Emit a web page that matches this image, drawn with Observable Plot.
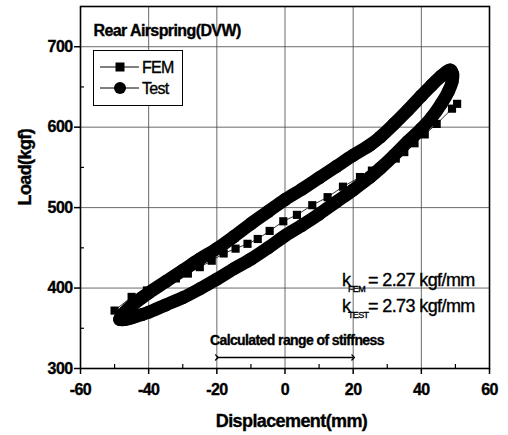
<!DOCTYPE html>
<html><head><meta charset="utf-8">
<script src="https://cdn.jsdelivr.net/npm/d3@7"></script>
<script src="https://cdn.jsdelivr.net/npm/@observablehq/plot@0.6"></script>
<style>
body{margin:0;background:#fff;}
#wrap{position:relative;width:508px;height:435px;font-family:"Liberation Sans",Arial,sans-serif;}
#wrap svg text{letter-spacing:-0.6px;stroke:#000;stroke-width:0.35px;}
#legend{position:absolute;left:93px;top:50px;width:88px;height:54px;border:1.5px solid #000;background:#fff;}
#legend svg text{font-family:"Liberation Sans",Arial,sans-serif;font-size:16px;letter-spacing:-0.7px;}
</style></head><body><div id="wrap"></div>
<script>
// ---- data ----
const femX = [-50,-45,-40.5,-36,-32,-28.5,-25,-21.5,-18,-14.5,-11,-8,-4.5,-0.5,3.5,8,12.5,17,22,25.5,29,32.5,35,38,41,44.5,49,50.5];
const femY = [372,389,397,405,412,418,426,434,443,449,455,461,471,483,491,503,513,526,538,546,553,561,569,580,591,604,623,629];

// Test hysteresis loop: lower branch (increasing displacement) then upper branch (decreasing)
const testX = [-48.5,-47,-45,-42,-40,-35,-30,-25,-20,-15,-10,-5,0,5,10,15,20,25,28,32,36,40,43,46,48,49,49.2,
               48.5,46,43,40,36,32,28,25,20,15,10,5,0,-5,-10,-15,-20,-25,-30,-35,-40,-42,-45,-47];
const testY = [361,361,363,367,370,379,388,399,411,424,436,450,465,478,492,507,522,538,549,565,582,598,612,630,645,656,666,
               671,664,652,639,621,604,588,578,565,551,537,523,510,495,480,464,449,436,422,408,394,388,378,370];

const xTicks = [-60,-40,-20,0,20,40,60];
const xMinor = [-50,-30,-10,10,30,50];
const yTicks = [300,400,500,600,700];
const yMinor = [350,450,550,650];
const xGrid = [-40,-20,0,20,40];
const yGrid = [400,500,600,700];

const seriesNames = ["FEM","Test"];
const kSubs = ["FEM","TEST"];
const kVals = ["= 2.27 kgf/mm","= 2.73 kgf/mm"];
const titleText = "Rear Airspring(DVW)";
const xLabel = "Displacement(mm)";
const yLabel = "Load(kgf)";
const rangeText = "Calculated range of stiffness";
const rangeBounds = [-20, 20];

// ---- tables ----
const fem = femX.map((x,i)=>({x, y: femY[i]}));
const test = testX.map((x,i)=>({x, y: testY[i]}));
const kAnchorX = 16.7;
const kAnchorY = [402, 370];
const kRows = kSubs.map((s,i)=>({x:kAnchorX, y:kAnchorY[i], sub:s, val:kVals[i]}));

const font = "Liberation Sans, Arial, sans-serif";
const plot = Plot.plot({
  width:508, height:435,
  marginLeft:80, marginRight:19, marginTop:6, marginBottom:67,
  x:{domain:[-60,60]},
  y:{domain:[300,750]},
  style:{fontFamily:font, background:"#fff", color:"#000", overflow:"visible"},
  marks:[
    Plot.gridX(xGrid,{stroke:"#444", strokeOpacity:1, strokeWidth:0.8}),
    Plot.gridY(yGrid,{stroke:"#444", strokeOpacity:1, strokeWidth:0.8}),
    Plot.axisX(xTicks,{anchor:"bottom", tickSize:6, tickPadding:9, fontSize:16, fontWeight:"bold", label:null, tickFormat:d=>`${d}`, strokeWidth:1.5}),
    Plot.axisX(xMinor,{anchor:"bottom", tickSize:4, dy:-4, tickFormat:()=>"", label:null, strokeWidth:1.2}),
    Plot.axisY(yTicks,{anchor:"left", tickSize:6, tickPadding:2, fontSize:16, fontWeight:"bold", label:null, tickFormat:d=>`${d}`, strokeWidth:1.5}),
    Plot.axisY(yMinor,{anchor:"left", tickSize:4, dx:4, tickFormat:()=>"", label:null, strokeWidth:1.2}),
    Plot.frame({stroke:"#000", strokeWidth:1.6}),
    // Test loop
    Plot.line(test,{x:"x", y:"y", curve:"catmull-rom-closed", stroke:"#000", strokeWidth:13, strokeLinejoin:"round"}),
    Plot.dot(test,{x:"x", y:"y", r:6.5, fill:"#000"}),
    // FEM
    Plot.line(fem,{x:"x", y:"y", stroke:"#000", strokeWidth:0.8}),
    Plot.dot(fem,{x:"x", y:"y", symbol:"square", r:4.6, fill:"#000"}),
    // texts
    Plot.text([titleText],{text:d=>d, frameAnchor:"top-left", dx:13, dy:29, lineAnchor:"bottom", textAnchor:"start", fontSize:16, fontWeight:"bold"}),
    Plot.text([xLabel],{text:d=>d, frameAnchor:"bottom", dx:6.5, dy:58, lineAnchor:"bottom", fontSize:18, fontWeight:"bold"}),
    Plot.text([yLabel],{text:d=>d, frameAnchor:"left", dx:-55, dy:18, rotate:-90, lineAnchor:"middle", fontSize:18, fontWeight:"bold"}),
    Plot.text(kRows,{x:"x", y:"y", text:()=>"k", textAnchor:"start", lineAnchor:"bottom", fontSize:18}),
    Plot.text(kRows,{x:"x", y:"y", text:"sub", textAnchor:"start", lineAnchor:"bottom", dx:6, dy:6, fontSize:9}),
    Plot.text(kRows,{x:"x", y:"y", text:"val", textAnchor:"start", lineAnchor:"bottom", dx:(26), fontSize:18}),
    Plot.text([rangeText],{text:d=>d, x:()=>3.5, y:()=>328.6, lineAnchor:"bottom", fontSize:14, fontWeight:"bold"}),
    Plot.link([rangeBounds],{x1:d=>d[0], x2:d=>d[1], y1:()=>313.7, y2:()=>313.7, stroke:"#000", strokeWidth:1.3, markerStart:"arrow", markerEnd:"arrow"})
  ]
});
const wrap = document.getElementById("wrap");
wrap.appendChild(plot);

// legend (inside the plot frame, top-left)
const leg = document.createElement("div");
leg.id = "legend";
leg.innerHTML = `<svg width="88" height="54">
  <line x1="6" x2="45" y1="16" y2="16" stroke="#000" stroke-width="1"/>
  <rect x="21.5" y="11.5" width="9" height="9" fill="#000"/>
  <text x="48" y="16" dy="0.35em">${seriesNames[0]}</text>
  <line x1="6" x2="45" y1="37" y2="37" stroke="#000" stroke-width="1"/>
  <circle cx="26" cy="37" r="6" fill="#000"/>
  <text x="48" y="37" dy="0.35em">${seriesNames[1]}</text>
</svg>`;
wrap.appendChild(leg);
</script></body></html>
